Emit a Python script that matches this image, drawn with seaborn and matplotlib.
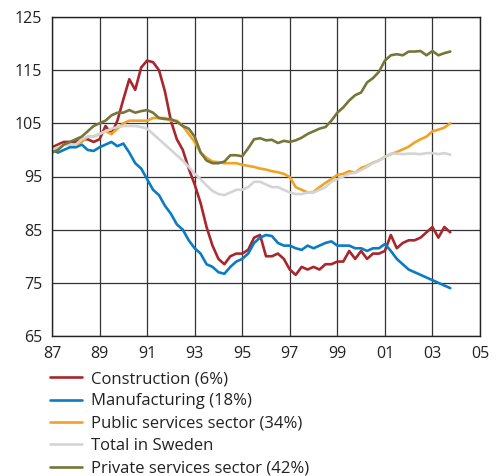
import numpy as np
import pandas as pd
import seaborn as sns
import matplotlib.pyplot as plt

# quarterly observations, 1987 Q1 .. 2003 Q4 (years written as 87..103)
years = np.arange(87, 104, 0.25)

construction = [100.5, 101, 101.5, 101.5, 101.5, 102, 102, 101.5,
                102, 104.5, 103, 105.5, 109.5, 113.3, 111.3, 115.5,
                116.8, 116.5, 115, 111, 105.5, 102, 100, 96.5,
                93.5, 90, 85.5, 82, 79.5, 78.5, 80, 80.5,
                80.5, 81.2, 83.5, 84, 80, 80, 80.5, 79.5,
                77.5, 76.5, 78, 77.5, 78, 77.5, 78.5, 78.5,
                79, 79, 81, 79.5, 81, 79.5, 80.5, 80.5,
                81, 84, 81.5, 82.5, 83, 83, 83.5, 84.5,
                85.5, 83.5, 85.5, 84.5]
manufacturing = [100, 99.5, 100, 100.5, 100.5, 101, 100, 99.8,
                 100.5, 101, 101.5, 100.7, 101.2, 99.5, 97.5, 96.5,
                 94.5, 92.5, 91.5, 89.5, 88, 86, 85, 83,
                 81.5, 80.5, 78.5, 78, 77, 76.7, 78, 79,
                 79.5, 80.5, 82.5, 83.5, 84, 83.8, 82.5, 82,
                 82, 81.5, 81.2, 82, 81.5, 82, 82.5, 82.8,
                 82, 82, 82, 81.5, 81.5, 81, 81.5, 81.5,
                 82.3, 81, 79.5, 78.5, 77.5, 77, 76.5, 76,
                 75.5, 75, 74.5, 74]
public = [100, 100.5, 101, 101, 101, 101.5, 102.5, 102.5,
          103, 103.5, 103, 104, 105, 105.5, 105.5, 105.5,
          105.5, 106, 106, 106, 105.5, 105.5, 104.5, 103,
          101.5, 99.5, 98.5, 97.8, 97.7, 97.5, 97.5, 97.5,
          97.2, 97, 96.8, 96.5, 96.3, 96, 95.8, 95.5,
          94.9, 93, 92.5, 92, 92.1, 93, 93.8, 94.5,
          95.3, 95.5, 96, 95.7, 96.6, 97, 97.6, 98,
          98.7, 99.2, 99.6, 100.1, 100.6, 101.4, 102, 102.5,
          103.5, 103.8, 104.2, 105]
total = [100, 100.5, 101, 101, 101, 102, 102.5, 102.5,
         103, 103.5, 104, 104.3, 104.5, 104.5, 104.5, 104.3,
         104, 103, 102, 101, 100, 99, 98, 96.8,
         95.5, 94.5, 93.3, 92.3, 91.7, 91.5, 92, 92.5,
         92.5, 93, 94, 94, 93.5, 93, 93, 92.5,
         92, 91.7, 91.7, 92, 92, 92.5, 93, 94,
         94.5, 95, 95.5, 95.7, 96.2, 96.8, 97.5, 98,
         98.7, 99.3, 99.3, 99.2, 99.3, 99.3, 99.2, 99.4,
         99.4, 99.2, 99.4, 99.1]
private = [99.5, 100, 101, 101.5, 102, 102.5, 103.5, 104.5,
           105, 105.5, 106.5, 107, 107, 107.5, 107, 107.3,
           107.5, 107, 106, 105.8, 105.8, 105.3, 104.5, 104,
           102.5, 99.5, 98, 97.5, 97.5, 97.8, 99, 99,
           98.8, 100.3, 102, 102.2, 101.8, 101.9, 101.3, 101.7,
           101.5, 101.8, 102.3, 103, 103.5, 104, 104.3, 105.5,
           107, 108, 109.3, 110.3, 110.8, 112.7, 113.5, 114.7,
           116.8, 117.8, 118, 117.8, 118.5, 118.5, 118.6, 117.8,
           118.6, 117.8, 118.2, 118.5]

names = ["Construction (6%)", "Manufacturing (18%)", "Public services sector (34%)",
         "Total in Sweden", "Private services sector (42%)"]
colors = ["#a8262c", "#0a7cc4", "#f0a324", "#d4d4d4", "#76763a"]

df = pd.DataFrame({"year": np.tile(years, 5),
                   "value": construction + manufacturing + public + total + private,
                   "series": np.repeat(names, len(years))})

sns.set_style("white")
plt.rcParams['font.family'] = ['Open Sans', 'DejaVu Sans']

fig = plt.figure(figsize=(4.96, 4.76), dpi=100)
ax = fig.add_axes([52/496, 1 - 336/476, 428/496, 319/476])

sns.lineplot(data=df, x="year", y="value", hue="series", hue_order=names,
             palette=colors, linewidth=1.9, ax=ax)

ax.set_xlim(87, 105)
ax.set_ylim(65, 125)
xt = np.arange(87, 106, 2)
ax.set_xticks(xt)
ax.set_xticklabels([f"{int(t) % 100:02d}" for t in xt])
ax.set_yticks(np.arange(65, 126, 10))
ax.grid(True, color="#333333", linewidth=0.9)
ax.set_axisbelow(True)
ax.tick_params(length=0, labelsize=11.5, colors="#222222", pad=7)
for s in ax.spines.values():
    s.set_color("#222222")
    s.set_linewidth(1)
ax.set_xlabel("")
ax.set_ylabel("")

# legend below the plot
leg = ax.legend(loc="upper left", bbox_to_anchor=(50/496, 1 - 371/476),
                bbox_transform=fig.transFigure, frameon=False, fontsize=12,
                borderpad=0, borderaxespad=0, handlelength=1.9,
                handletextpad=0.55, labelspacing=0.38)
for t in leg.get_texts():
    t.set_color("#222222")

fig.savefig("out.png", dpi=100)
